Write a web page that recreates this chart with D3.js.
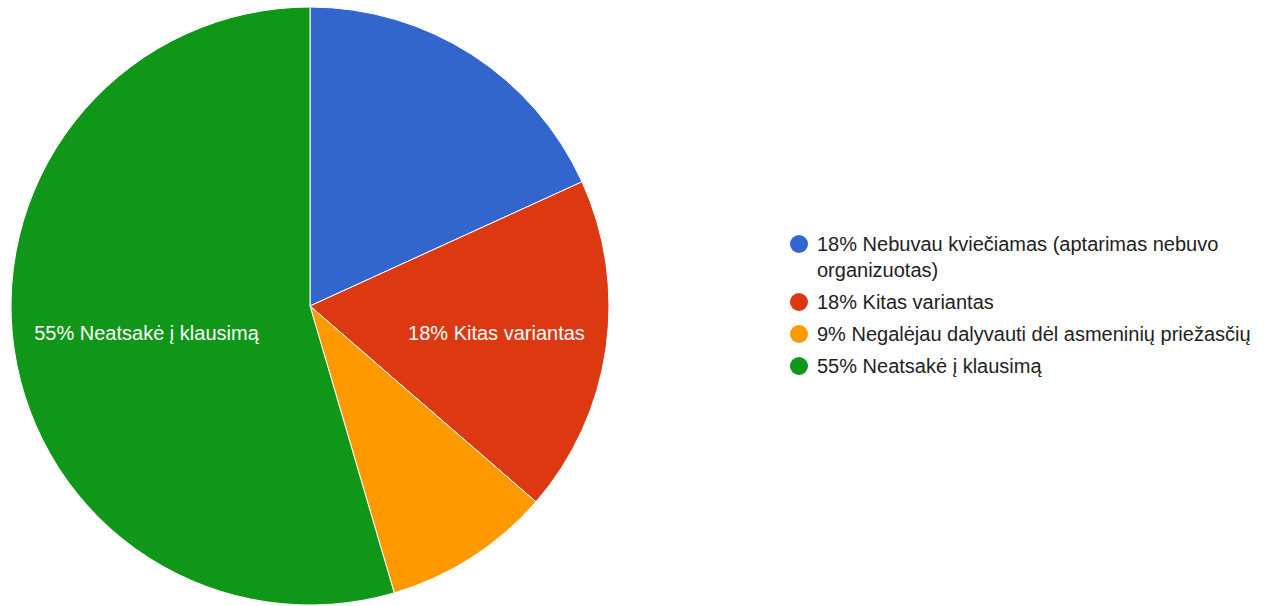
<!DOCTYPE html>
<html>
<head>
<meta charset="utf-8">
<script src="https://cdn.jsdelivr.net/npm/d3@7"></script>
<style>
  body { margin: 0; background: #fff; }
  svg { display: block; font-family: "Liberation Sans", Arial, sans-serif; }
</style>
</head>
<body>
<div id="chart"></div>
<script>
// answers and response counts
const labels = [
  'Nebuvau kviečiamas (aptarimas nebuvo organizuotas)',
  'Kitas variantas',
  'Negalėjau dalyvauti dėl asmeninių priežasčių',
  'Neatsakė į klausimą'
];
const counts = [2, 2, 1, 6];
const colors = ['#3366cc', '#dc3912', '#ff9900', '#109618'];

const width = 1266, height = 606;
const cx = 310, cy = 306, r = 299;

const total = d3.sum(counts);
const pct = v => Math.round(v / total * 100) + '%';

const svg = d3.select('#chart').append('svg')
  .attr('width', width)
  .attr('height', height);

const pie = d3.pie().sort(null).value(d => d.v);
const arcs = pie(counts.map((v, i) => ({v, i})));
const arc = d3.arc().innerRadius(0).outerRadius(r);

const g = svg.append('g').attr('transform', `translate(${cx},${cy})`);

g.selectAll('path.slice')
  .data(arcs)
  .enter().append('path')
    .attr('class', 'slice')
    .attr('d', arc)
    .attr('fill', d => colors[d.data.i])
    .attr('stroke', '#fff')
    .attr('stroke-width', 1);

// slice labels, only where the text fits along the slice
const lr = r * 0.63;
const labelArc = d3.arc().innerRadius(lr).outerRadius(lr);
arcs.forEach(d => {
  const [x, y] = labelArc.centroid(d);
  const t = g.append('text')
    .attr('fill', '#fff')
    .attr('font-size', 20)
    .attr('dy', '0.35em')
    .attr('text-anchor', 'middle')
    .text(pct(d.data.v) + ' ' + labels[d.data.i]);
  const w = t.node().getComputedTextLength();
  if (w > (d.endAngle - d.startAngle) * lr) { t.remove(); return; }
  let px = x;
  const edge = Math.sqrt(r * r - y * y) - 22;
  if (px - w / 2 < -edge) px = -edge + w / 2;
  if (px + w / 2 > edge) px = edge - w / 2;
  t.attr('x', px).attr('y', y);
});

// legend
const legend = svg.append('g').attr('transform', 'translate(799,244)');
const maxW = 440, lineH = 26, gap = 32;
let yy = 0;
labels.forEach((lab, i) => {
  const item = legend.append('g').attr('transform', `translate(0,${yy})`);
  item.append('circle')
    .attr('r', 9)
    .attr('fill', colors[i]);
  const txt = item.append('text')
    .attr('font-size', 20)
    .attr('fill', '#222');
  const words = (pct(counts[i]) + ' ' + lab).split(' ');
  let line = [], n = 0;
  let ts = txt.append('tspan').attr('x', 18).attr('y', 0).attr('dy', '0.35em');
  words.forEach(w => {
    line.push(w);
    ts.text(line.join(' '));
    if (ts.node().getComputedTextLength() > maxW && line.length > 1) {
      line.pop();
      ts.text(line.join(' '));
      line = [w];
      n++;
      ts = txt.append('tspan').attr('x', 18).attr('y', n * lineH).attr('dy', '0.35em').text(w);
    }
  });
  yy += n * lineH + gap;
});
</script>
</body>
</html>
